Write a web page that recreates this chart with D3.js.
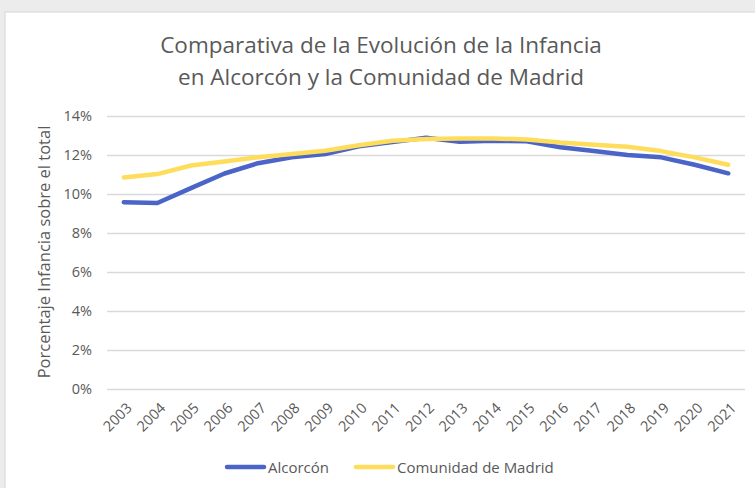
<!DOCTYPE html>
<html>
<head>
<meta charset="utf-8">
<script src="https://cdn.jsdelivr.net/npm/d3@7"></script>
<style>
  body { margin: 0; background: #ececec; }
  svg { display: block; font-family: "Open Sans", "Noto Sans", sans-serif; }
</style>
</head>
<body>
<svg id="chart" width="755" height="488"></svg>
<script>
// data
let years = ["2003","2004","2005","2006","2007","2008","2009","2010","2011","2012",
             "2013","2014","2015","2016","2017","2018","2019","2020","2021"]
let alcorcon = [9.58, 9.54, 10.30, 11.05, 11.58, 11.88, 12.05, 12.45, 12.66, 12.88,
                12.68, 12.73, 12.70, 12.40, 12.20, 12.00, 11.88, 11.50, 11.06]
let madrid = [10.85, 11.02, 11.46, 11.67, 11.88, 12.05, 12.22, 12.50, 12.73, 12.82,
              12.85, 12.85, 12.80, 12.64, 12.52, 12.42, 12.20, 11.88, 11.50]
let yTicks = [0, 2, 4, 6, 8, 10, 12, 14]
let seriesNames = ["Alcorcón", "Comunidad de Madrid"]
let colors = ["#4A64C8", "#FFDD5C"]

let svg = d3.select("#chart")

// card background
svg.append("rect")
	.attr("x", 5).attr("y", 12)
	.attr("width", 760).attr("height", 490)
	.attr("fill", "#fff")
	.attr("stroke", "#d6d6d6")

let margin = {top: 116, left: 107, right: 745, bottom: 389}

let xscale = d3.scaleBand()
	.domain(years)
	.range([margin.left, margin.right])

let yscale = d3.scaleLinear()
	.domain([0, 14])
	.range([margin.bottom, margin.top])

let textColor = "#595959"

//title
svg.append("text")
	.attr("x", 381).attr("y", 53)
	.attr("text-anchor", "middle")
	.attr("font-size", 22.5)
	.attr("fill", textColor)
	.text("Comparativa de la Evolución de la Infancia")
svg.append("text")
	.attr("x", 381).attr("y", 85)
	.attr("text-anchor", "middle")
	.attr("font-size", 22.5)
	.attr("fill", textColor)
	.text("en Alcorcón y la Comunidad de Madrid")

//gridlines + y labels
let yAxis = svg.append("g")
	.attr("transform", "translate(" + margin.left + ",0)")
	.call(d3.axisLeft(yscale).tickValues(yTicks).tickSize(-(margin.right - margin.left))
		.tickPadding(15).tickFormat(d => d + "%"))
yAxis.select(".domain").remove()
yAxis.selectAll("line").attr("stroke", "#d9d9d9").attr("stroke-width", 1.3)
yAxis.selectAll("text").attr("font-size", 14.5).attr("fill", textColor)
	.style("font-family", "'Open Sans', sans-serif")

//x labels
let xAxis = svg.append("g")
	.attr("transform", "translate(0," + margin.bottom + ")")
	.call(d3.axisBottom(xscale).tickSize(0).tickPadding(0))
xAxis.select(".domain").remove()
xAxis.selectAll("text")
	.attr("font-size", 14.5)
	.attr("fill", textColor)
	.style("font-family", "'Open Sans', sans-serif")
	.attr("text-anchor", "end")
	.attr("dy", 0)
	.attr("y", 0)
	.attr("transform", "translate(9,20) rotate(-45)")

//y axis title
svg.append("text")
	.attr("transform", "translate(50,252) rotate(-90)")
	.attr("text-anchor", "middle")
	.attr("font-size", 16.5)
	.attr("fill", textColor)
	.text("Porcentaje Infancia sobre el total")

//lines, yellow drawn over blue
let valueLine = d3.line()
	.x((d, i) => xscale(years[i]) + xscale.bandwidth() / 2)
	.y(d => yscale(d))

let allSeries = [alcorcon, madrid]
allSeries.forEach(function(s, i) {
	svg.append("path")
		.datum(s)
		.attr("d", valueLine)
		.attr("fill", "none")
		.attr("stroke", colors[i])
		.attr("stroke-width", 4.5)
		.attr("stroke-linecap", "round")
		.attr("stroke-linejoin", "round")
})

//legend
let legendX = [226, 355]
seriesNames.forEach(function(name, i) {
	let g = svg.append("g").attr("transform", "translate(" + legendX[i] + ",467)")
	g.append("line")
		.attr("x1", 1).attr("x2", 38).attr("y1", 0).attr("y2", 0)
		.attr("stroke", colors[i]).attr("stroke-width", 4.5)
		.attr("stroke-linecap", "round")
	g.append("text")
		.attr("x", 42).attr("y", 5.5)
		.attr("font-size", 15)
		.attr("fill", textColor)
		.text(name)
})
</script>
</body>
</html>
